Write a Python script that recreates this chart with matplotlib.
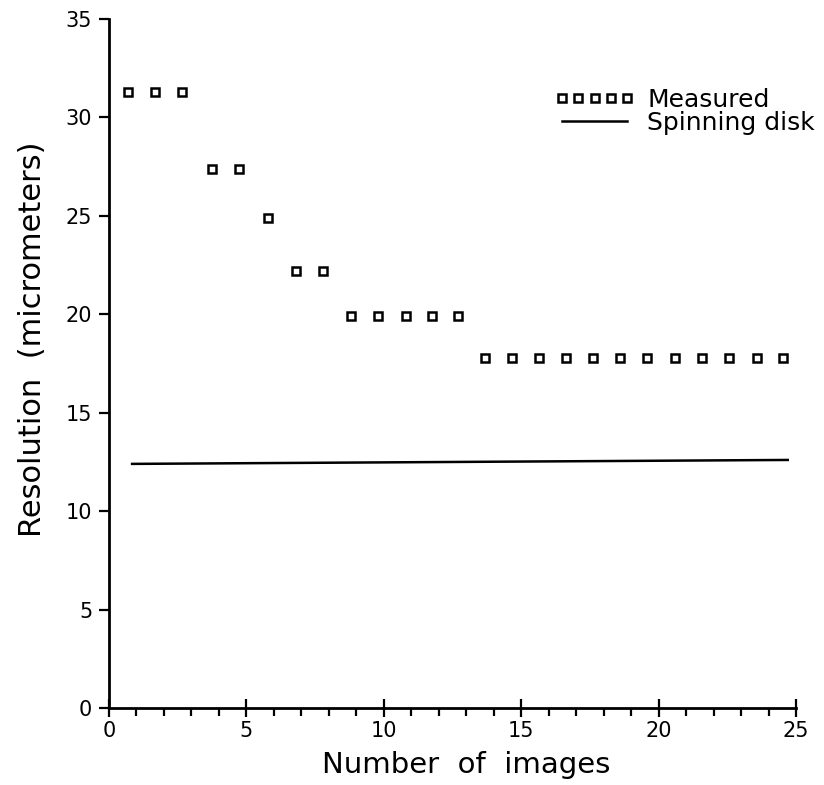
import matplotlib
matplotlib.use('Agg')
import matplotlib.pyplot as plt
from matplotlib.ticker import MultipleLocator

# measured resolution vs number of images (x, points sit a bit left of the integers)
meas_x = [0.69, 1.67, 2.65, 3.76, 4.74, 5.77, 6.80, 7.80, 8.80, 9.80, 10.80, 11.75, 12.70,
          13.68, 14.67, 15.65, 16.63, 17.62, 18.60, 19.58, 20.60, 21.58, 22.56, 23.58, 24.53]
meas_y = [31.3, 31.3, 31.3, 27.4, 27.4, 24.9, 22.2, 22.2,
          19.9, 19.9, 19.9, 19.9, 19.9,
          17.8, 17.8, 17.8, 17.8, 17.8, 17.8, 17.8, 17.8, 17.8, 17.8, 17.8, 17.8]

# spinning disk reference line
disk_x = [0.84, 24.7]
disk_y = [12.4, 12.6]

fig = plt.figure(figsize=(8.24, 7.85), dpi=100)
ax = fig.add_axes([0.1323, 0.0981, 0.8337, 0.8777])

ax.plot(meas_x, meas_y, 's', ms=6, mfc='white', mec='black', mew=1.8,
        linestyle='none', label='Measured')
ax.plot(disk_x, disk_y, '-', color='black', lw=1.8, label='Spinning disk')

ax.set_xlim(0, 25)
ax.set_ylim(0, 35)
ax.spines['top'].set_visible(False)
ax.spines['right'].set_visible(False)
ax.spines['left'].set_linewidth(2)
ax.spines['bottom'].set_linewidth(2)

ax.xaxis.set_major_locator(MultipleLocator(5))
ax.xaxis.set_minor_locator(MultipleLocator(1))
ax.yaxis.set_major_locator(MultipleLocator(5))
ax.tick_params(axis='x', which='major', direction='inout', length=13, width=1.6, labelsize=15, pad=3)
ax.tick_params(axis='x', which='minor', direction='out', length=6, width=1.6)
ax.tick_params(axis='y', which='major', direction='out', length=7, width=1.6, labelsize=15, pad=5)

ax.set_xlabel('Number  of  images', fontsize=21)
ax.set_ylabel('Resolution  (micrometers)', fontsize=22)
ax.xaxis.set_label_coords(0.52, -0.063)
ax.yaxis.set_label_coords(-0.09, 0.535)

ax.legend(loc='upper left', bbox_to_anchor=(0.673, 0.888), bbox_transform=fig.transFigure,
          numpoints=5, frameon=False, fontsize=18, handlelength=3.2, handletextpad=0.5,
          labelspacing=-0.05, borderpad=0, borderaxespad=0)

fig.savefig('out.png', dpi=100)
